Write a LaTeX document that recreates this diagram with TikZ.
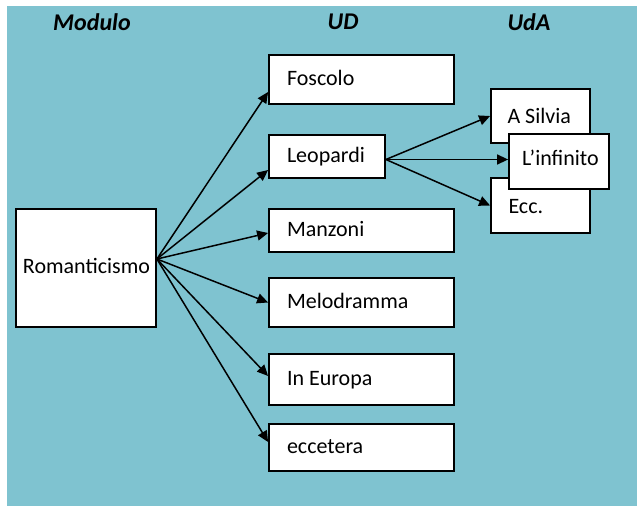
\documentclass[tikz,border=0pt]{standalone}
\usepackage{fontspec}
\setmainfont{Carlito}
\usetikzlibrary{arrows.meta}
\definecolor{bgTeal}{HTML}{7FC3D0}

\begin{document}
\begin{tikzpicture}[x=1pt, y=-1pt,
   head/.style={font=\fontsize{24}{28}\selectfont\bfseries\itshape},
   unit/.style={rectangle, draw=black, line width=1.8pt, fill=white,
                inner xsep=18pt, inner ysep=0pt, align=flush left,
                text height=14pt, text depth=3pt,
                font=\fontsize{22}{26}\selectfont},
   link/.style={-{Triangle[length=11pt,width=10pt]}, line width=1.5pt}]
\hyphenpenalty=10000 \exhyphenpenalty=10000
\useasboundingbox (0,0) rectangle (637,506);
\fill[bgTeal] (7,6) rectangle (637,506);

\node[head] (tmod) at (92,22) {Modulo};
\node[head] (tud)  at (343,22) {UD};
\node[head] (tuda) at (529,22) {UdA};

\node[unit, text width=126pt, inner xsep=7pt, align=center,
      minimum height=118pt] (rom) at (86,268) {Romanticismo};

\node[unit, text width=149pt, minimum height=49pt] (fos) at (361.5,79.5) {Foscolo};
\node[unit, text width=80pt,  minimum height=43pt] (leo) at (327,156.5) {Leopardi};
\node[unit, text width=149pt, minimum height=43pt] (man) at (361.5,230.5) {Manzoni};
\node[unit, text width=149pt, minimum height=49pt] (mel) at (361.5,302.5) {Melodramma};
\node[unit, text width=149pt, minimum height=51pt] (eur) at (361.5,379.5) {In Europa};
\node[unit, text width=149pt, minimum height=47pt] (ecc) at (361.5,447.5) {eccetera};

\node[unit, text width=72pt, inner xsep=13.5pt, minimum height=54pt,
      text height=17pt, text depth=3pt] (sil) at (540.5,116) {\hspace*{3pt}A Silvia};
\node[unit, text width=72pt, inner xsep=13.5pt, minimum height=55pt,
      text height=18pt, text depth=3pt] (eccA) at (540.5,205.5) {\hspace*{4pt}Ecc.};
\node[unit, text width=82pt, inner xsep=9pt, minimum height=55pt,
      text height=14pt, text depth=6pt] (inf) at (559,161.5) {\hspace*{4pt}L’infinito};

\foreach \n/\dy in {fos/-12.5, leo/-13.5, man/-2.5, mel/0, eur/3.5, ecc/5.5}
  \draw[link] ([yshift=9pt]rom.east) -- ([yshift=\dy pt]\n.west);

\draw[link] ([yshift=-3pt]leo.east) -- (sil.west);
\draw[link] ([yshift=-3pt]leo.east) -- ([yshift=2pt]inf.west);
\draw[link] ([yshift=-3pt]leo.east) -- (eccA.west);
\end{tikzpicture}
\end{document}
